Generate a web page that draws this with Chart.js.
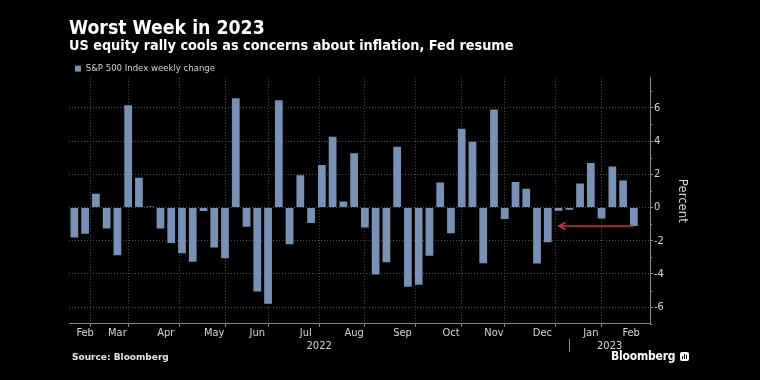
<!DOCTYPE html>
<html>
<head>
<meta charset="utf-8">
<script src="https://cdn.jsdelivr.net/npm/chart.js@4.4.0/dist/chart.umd.min.js"></script>
<style>
  html, body { margin: 0; padding: 0; background: #000; }
  #wrap { position: relative; width: 760px; height: 380px; overflow: hidden; background: #000; }
  #c { position: absolute; left: 0; top: 0; }
  #source { position: absolute; left: 72px; top: 352px; font: bold 9px "DejaVu Sans", sans-serif; color: #e6e6e6; }
  #logo { position: absolute; left: 611px; top: 349px; font: bold 12px "DejaVu Sans Condensed", "DejaVu Sans", sans-serif; color: #fff; white-space: nowrap; letter-spacing: -0.2px; }
  #logo .icon { display: inline-block; position: relative; width: 9px; height: 9px; background: #fff; border-radius: 2px; margin-left: 5px; vertical-align: -1px; }
  #logo .icon i { position: absolute; bottom: 2px; width: 1px; background: #000; }
</style>
</head>
<body>
<div id="wrap">
  <canvas id="c" width="760" height="380"></canvas>
  <div id="source">Source: Bloomberg</div>
  <div id="logo">Bloomberg<span class="icon"><i style="left:2px;height:3px"></i><i style="left:4px;height:5px"></i><i style="left:6px;height:4px"></i></span></div>
</div>
<script>
// ---- data ----
const weeks = [
  '2022-02-11','2022-02-18','2022-02-25',
  '2022-03-04','2022-03-11','2022-03-18','2022-03-25',
  '2022-04-01','2022-04-08','2022-04-14','2022-04-22','2022-04-29',
  '2022-05-06','2022-05-13','2022-05-20','2022-05-27',
  '2022-06-03','2022-06-10','2022-06-17','2022-06-24',
  '2022-07-01','2022-07-08','2022-07-15','2022-07-22','2022-07-29',
  '2022-08-05','2022-08-12','2022-08-19','2022-08-26',
  '2022-09-02','2022-09-09','2022-09-16','2022-09-23','2022-09-30',
  '2022-10-07','2022-10-14','2022-10-21','2022-10-28',
  '2022-11-04','2022-11-11','2022-11-18','2022-11-25',
  '2022-12-02','2022-12-09','2022-12-16','2022-12-23','2022-12-30',
  '2023-01-06','2023-01-13','2023-01-20','2023-01-27',
  '2023-02-03','2023-02-10'
];
const weeklyChange = [
  -1.80, -1.58, 0.82,
  -1.27, -2.88, 6.16, 1.79,
  0.06, -1.27, -2.13, -2.75, -3.27,
  -0.21, -2.41, -3.05, 6.58,
  -1.16, -5.05, -5.79, 6.45,
  -2.21, 1.94, -0.93, 2.55, 4.26,
  0.36, 3.26, -1.21, -4.04,
  -3.29, 3.65, -4.77, -4.65, -2.91,
  1.51, -1.55, 4.74, 3.95,
  -3.35, 5.90, -0.69, 1.53,
  1.13, -3.37, -2.09, -0.20, -0.14,
  1.45, 2.67, -0.66, 2.47,
  1.62, -1.11
];
const monthNames = ['Jan','Feb','Mar','Apr','May','Jun','Jul','Aug','Sep','Oct','Nov','Dec'];
const yTickValues = [-6, -4, -2, 0, 2, 4, 6];
const yMinorTicks = [-7, -5, -3, -1, 1, 3, 5, 7];
const seriesLabel = 'S&P 500 Index weekly change';
const titleText = 'Worst Week in 2023';
const subtitleText = 'US equity rally cools as concerns about inflation, Fed resume';
const yAxisTitle = 'Percent';
const arrowFromWeek = '2023-02-10';
const arrowToWeek = '2022-12-23';

// ---- derived axis layout from the data ----
const X_MIN = -0.5, X_MAX = weeks.length + 0.5;
const monthKey = d => d.slice(0, 7);
const monthBoundaries = [];
for (let i = 0; i < weeks.length - 1; i++) {
  if (monthKey(weeks[i]) !== monthKey(weeks[i + 1])) monthBoundaries.push(i);
}
const monthLabels = [];
{
  let start = 0;
  monthBoundaries.concat([null]).forEach((b, k) => {
    const end = b === null ? X_MAX : b;
    const firstIdx = k === 0 ? 0 : monthBoundaries[k - 1] + 1;
    const m = parseInt(weeks[firstIdx].slice(5, 7), 10) - 1;
    monthLabels.push({ value: (start + end) / 2, text: monthNames[m] });
    start = end;
  });
}
const yearBoundaries = [];
for (let i = 0; i < weeks.length - 1; i++) {
  if (weeks[i].slice(0, 4) !== weeks[i + 1].slice(0, 4)) yearBoundaries.push(i);
}
const yearLabels = [];
{
  let start = X_MIN;
  yearBoundaries.concat([null]).forEach((b, k) => {
    const end = b === null ? X_MAX : b;
    const firstIdx = k === 0 ? 0 : yearBoundaries[k - 1] + 1;
    yearLabels.push({ value: (start + end) / 2, text: weeks[firstIdx].slice(0, 4) });
    start = end;
  });
}

const FONT = '"DejaVu Sans Condensed", "DejaVu Sans", sans-serif';
const GRID = '#4f4f4f';
const AXIS = '#8a8a8a';
const TEXT = '#d6d6d6';

const legendTrim = {
  id: 'legendTrim',
  afterInit(chart) {
    const lg = chart.legend;
    if (!lg) return;
    const fit = lg.fit.bind(lg);
    lg.fit = function () { fit(); this.height = Math.max(0, this.height - 5.5); };
  }
};

const arrowPlugin = {
  id: 'arrowAndSeparators',
  afterDatasetsDraw(chart) {
    const { ctx } = chart;
    const xs = chart.scales.x, ys = chart.scales.y, yr = chart.scales.xYear;
    ctx.save();
    ctx.strokeStyle = AXIS;
    ctx.lineWidth = 1;
    yearBoundaries.forEach(b => {
      const px = Math.round(xs.getPixelForValue(b)) + 0.5;
      ctx.beginPath();
      ctx.moveTo(px, yr.top - 1);
      ctx.lineTo(px, yr.bottom - 1);
      ctx.stroke();
    });
    yMinorTicks.forEach(v => {
      const py = Math.round(ys.getPixelForValue(v)) + 0.5;
      ctx.beginPath();
      ctx.moveTo(ys.left, py);
      ctx.lineTo(ys.left + 2, py);
      ctx.stroke();
    });
    const i0 = weeks.indexOf(arrowFromWeek), i1 = weeks.indexOf(arrowToWeek);
    const py = ys.getPixelForValue(weeklyChange[i0]);
    const x0 = xs.getPixelForValue(i0), x1 = xs.getPixelForValue(i1);
    ctx.strokeStyle = '#d4303c';
    ctx.lineWidth = 1.6;
    ctx.beginPath();
    ctx.moveTo(x0, py);
    ctx.lineTo(x1, py);
    ctx.stroke();
    ctx.beginPath();
    ctx.moveTo(x1 + 7, py - 3.5);
    ctx.lineTo(x1 + 0.5, py);
    ctx.lineTo(x1 + 7, py + 3.5);
    ctx.stroke();
    ctx.restore();
  }
};

new Chart(document.getElementById('c'), {
  type: 'bar',
  data: {
    datasets: [{
      label: seriesLabel,
      data: weeks.map((w, i) => ({ x: i, y: weeklyChange[i] })),
      backgroundColor: '#7891b6',
      borderWidth: 0,
      barPercentage: 0.72,
      categoryPercentage: 1.0
    }]
  },
  options: {
    responsive: false,
    animation: false,
    devicePixelRatio: 1,
    events: [],
    layout: { padding: { top: 20, left: 69, right: 66, bottom: 27 } },
    plugins: {
      tooltip: { enabled: false },
      title: {
        display: true, text: titleText, align: 'start', color: '#ffffff',
        font: { family: FONT, size: 19.3, weight: 'bold', lineHeight: 0.93 },
        padding: { top: 0, bottom: 0 }
      },
      subtitle: {
        display: true, text: subtitleText, align: 'start', color: '#ffffff',
        font: { family: FONT, size: 14.3, weight: 'bold', lineHeight: 1.1 },
        padding: { top: 0, bottom: 4.2 }
      },
      legend: {
        display: true, align: 'start',
        labels: {
          color: '#cfcfcf', boxWidth: 6, boxHeight: 6, padding: 6,
          font: { family: FONT, size: 9.5 }
        }
      }
    },
    scales: {
      x: {
        type: 'linear', position: 'bottom', min: X_MIN, max: X_MAX, weight: 0, offset: false,
        afterBuildTicks: s => {
          const t = monthBoundaries.map(v => ({ value: v, kind: 'grid' }))
            .concat(monthLabels.map(m => ({ value: m.value, kind: 'label', text: m.text })));
          t.sort((a, b) => a.value - b.value);
          s.ticks = t;
        },
        ticks: {
          autoSkip: false, maxRotation: 0, color: TEXT, padding: 1,
          font: { family: FONT, size: 11, lineHeight: 1.0 },
          callback: function (value, index, ticks) {
            const t = ticks[index];
            return t && t.kind === 'label' ? t.text : '';
          }
        },
        grid: {
          color: c => (c.tick && c.tick.kind === 'grid') ? GRID : 'rgba(0,0,0,0)',
          tickColor: c => (c.tick && c.tick.kind === 'grid') ? AXIS : 'rgba(0,0,0,0)',
          tickLength: 3, lineWidth: 1
        },
        border: { display: true, color: AXIS, width: 1, dash: [1, 2] }
      },
      xYear: {
        type: 'linear', position: 'bottom', min: X_MIN, max: X_MAX, weight: 1, offset: false,
        afterBuildTicks: s => { s.ticks = yearLabels.map(y => ({ value: y.value, text: y.text })); },
        ticks: {
          autoSkip: false, maxRotation: 0, color: TEXT, padding: 0,
          font: { family: FONT, size: 11 },
          callback: function (value, index, ticks) { return ticks[index] ? ticks[index].text : ''; }
        },
        grid: { display: false, drawTicks: false },
        border: { display: false }
      },
      y: {
        type: 'linear', position: 'right', min: -7, max: 7.8,
        afterBuildTicks: s => {
          s.ticks = yTickValues.map(v => ({ value: v, major: true }));
        },
        afterFit: s => { s.width = 44; },
        ticks: {
          color: TEXT, padding: 1,
          font: { family: FONT, size: 11 },
          callback: v => String(v)
        },
        grid: { color: GRID, tickColor: AXIS, tickLength: 3, lineWidth: 1 },
        border: { display: true, color: AXIS, width: 1, dash: [1, 2] },
        title: {
          display: true, text: yAxisTitle, color: TEXT,
          font: { family: FONT, size: 13 }, padding: 4
        }
      }
    }
  },
  plugins: [legendTrim, arrowPlugin]
});
</script>
</body>
</html>
